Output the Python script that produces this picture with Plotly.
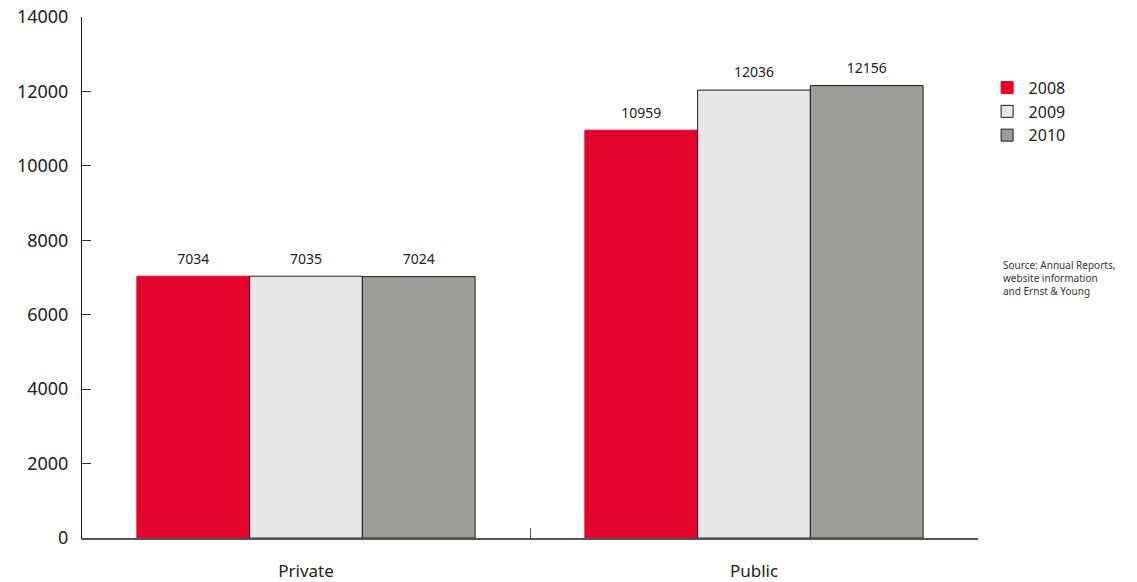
import plotly.graph_objects as go

categories = ["Private", "Public"]
years = ["2008", "2009", "2010"]
values_2008 = [7034, 10959]
values_2009 = [7035, 12036]
values_2010 = [7024, 12156]
y_ticks = [0, 2000, 4000, 6000, 8000, 10000, 12000, 14000]
y_tick_labels = [str(v) for v in y_ticks]

series = [values_2008, values_2009, values_2010]
fills = ["#e4032a", "#e7e7e7", "#9d9d9b"]
edges = ["#e4032a", "#1a1a1a", "#1a1a1a"]

FONT = "Noto Sans"
GAP = 0.245
fig = go.Figure()
for i, (name, vals, fc, ec) in enumerate(zip(years, series, fills, edges)):
    fig.add_trace(go.Bar(
        x=categories, y=vals, name=name, offsetgroup=str(i),
        marker=dict(color=fc, line=dict(color=ec, width=1)),
    ))
for i, vals in enumerate(series):
    fig.add_trace(go.Scatter(
        x=categories, y=vals, mode="markers+text", offsetgroup=str(i),
        marker=dict(size=13, color="rgba(0,0,0,0)"),
        text=[str(v) for v in vals], textposition="top center",
        textfont=dict(family=FONT, size=14, color="#222"),
        showlegend=False, hoverinfo="skip", cliponaxis=False,
    ))

fig.update_layout(
    width=1137, height=582,
    margin=dict(l=82, r=159, t=17, b=44),
    paper_bgcolor="white", plot_bgcolor="white",
    barmode="group", bargap=GAP, bargroupgap=0,
    scattermode="group", scattergap=GAP,
    font=dict(family=FONT, color="#222"),
    legend=dict(x=1.0085, xanchor="left", y=0.897, yanchor="top",
                font=dict(size=16, family=FONT, color="#222"),
                tracegroupgap=0, itemwidth=33, bgcolor="rgba(0,0,0,0)"),
    showlegend=True,
    xaxis=dict(showline=True, linecolor="#555", linewidth=1.5,
               ticks="inside", tickson="boundaries", ticklen=10, tickcolor="#555",
               tickfont=dict(size=17, family=FONT, color="#222"),
               ticklabelstandoff=17, showgrid=False, zeroline=False, automargin=False),
    yaxis=dict(range=[0, 14000], tickvals=y_ticks, ticktext=y_tick_labels,
               showline=True, linecolor="#111",
               linewidth=1, ticks="inside", ticklen=9, tickcolor="#333",
               tickfont=dict(size=18, family=FONT, color="#222"),
               ticklabelstandoff=9, showgrid=False, zeroline=False, automargin=False),
    annotations=[dict(
        text="Source: Annual Reports,<br>website information<br>and Ernst & Young",
        xref="paper", yref="paper", x=1.026, y=0.542, xanchor="left", yanchor="top",
        align="left", showarrow=False, font=dict(size=10, family=FONT, color="#333"))],
)

fig.write_html("out.html")
